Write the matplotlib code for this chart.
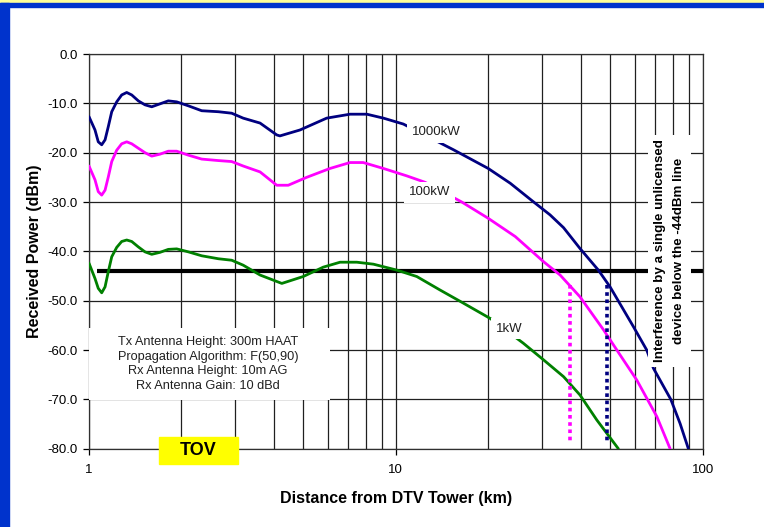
import matplotlib.pyplot as plt
from matplotlib.patches import Rectangle

plt.rcParams['font.family'] = ['Liberation Sans', 'DejaVu Sans']

# 1000kW curve (navy)
x_1000 = [1.0, 1.046, 1.072, 1.10, 1.128, 1.156, 1.186, 1.231, 1.278, 1.327, 1.378, 1.448,
          1.522, 1.601, 1.704, 1.813, 1.931, 2.107, 2.33, 2.64, 2.918, 3.18, 3.61, 4.09,
          4.19, 4.87, 5.95, 7.09, 8.04, 9.11, 10.58, 15.4, 20.0, 23.6, 28.0, 31.8, 35.2,
          39.8, 45.7, 49.9, 59.5, 65.7, 69.1, 78.7, 84.4, 89.8]
y_1000 = [-12.7, -15.4, -17.8, -18.4, -17.4, -14.7, -11.7, -9.7, -8.3, -7.8, -8.3, -9.5,
          -10.3, -10.7, -10.1, -9.5, -9.7, -10.5, -11.5, -11.7, -12.0, -13.0, -14.0, -16.4,
          -16.6, -15.4, -13.0, -12.2, -12.2, -13.0, -14.2, -19.4, -23.2, -26.2, -29.9, -32.6,
          -35.2, -39.4, -43.8, -47.2, -55.3, -60.0, -63.7, -70.0, -74.9, -80.0]

# 100kW curve (magenta)
x_100 = [1.0, 1.046, 1.072, 1.10, 1.128, 1.156, 1.186, 1.231, 1.278, 1.327, 1.378, 1.448,
         1.522, 1.601, 1.704, 1.813, 1.931, 2.107, 2.33, 2.64, 2.918, 3.18, 3.61, 4.09,
         4.46, 5.12, 6.10, 7.09, 7.83, 9.11, 10.85, 12.45, 16.4, 20.0, 24.5, 30.3, 34.3,
         39.8, 47.5, 53.8, 61.0, 70.9, 78.3]
y_100 = [-22.7, -25.5, -27.9, -28.6, -27.6, -24.9, -21.8, -19.5, -18.2, -17.8, -18.2, -19.1,
         -20.0, -20.7, -20.3, -19.7, -19.7, -20.5, -21.3, -21.6, -21.8, -22.7, -23.9, -26.6,
         -26.6, -25.0, -23.2, -22.0, -22.0, -23.2, -24.7, -26.0, -30.0, -33.3, -37.0, -42.1,
         -44.8, -49.2, -55.9, -61.0, -66.1, -73.5, -80.0]

# 1kW curve (green)
x_1 = [1.0, 1.046, 1.072, 1.10, 1.128, 1.156, 1.186, 1.231, 1.278, 1.327, 1.378, 1.448,
       1.522, 1.601, 1.704, 1.813, 1.931, 2.107, 2.33, 2.64, 2.918, 3.18, 3.61, 4.25, 4.99,
       5.80, 6.58, 7.46, 8.45, 10.07, 11.7, 13.9, 16.6, 20.3, 26.0, 30.3, 35.2, 39.8, 45.2,
       53.1]
y_1 = [-42.4, -45.5, -47.5, -48.4, -47.2, -44.1, -41.1, -39.2, -38.0, -37.7, -38.0, -39.1,
       -40.1, -40.6, -40.2, -39.6, -39.5, -40.1, -40.9, -41.5, -41.8, -42.8, -44.8, -46.5,
       -45.1, -43.2, -42.2, -42.2, -42.6, -43.8, -45.1, -47.8, -50.5, -53.6, -58.6, -62.0,
       -65.4, -69.1, -74.2, -80.0]

threshold = -44
x_cut_100 = 37.0
x_cut_1000 = 48.8
y_cut = [-46.8, -78.8]

navy = '#000080'
magenta = '#FF00FF'
green = '#008000'

fig = plt.figure(figsize=(7.64, 5.27), dpi=100)
fig.patch.set_facecolor('white')
# slide frame
fig.patches.append(Rectangle((0, 1 - 3 / 527), 1, 3 / 527, transform=fig.transFigure,
                             color='#FFFF99', zorder=0))
fig.patches.append(Rectangle((0, 1 - 7 / 527), 1, 4.2 / 527, transform=fig.transFigure,
                             color='#0033CC', zorder=0))
fig.patches.append(Rectangle((0, 0), 8.5 / 764, 1 - 3 / 527, transform=fig.transFigure,
                             color='#0033CC', zorder=0))

ax = fig.add_axes([89 / 764, 1 - 448.7 / 527, 613.7 / 764, 394.7 / 527])
ax.set_xscale('log')
ax.set_xlim(1, 100)
ax.set_ylim(-80, 0)

ax.grid(True, which='both', axis='x', color='#202020', lw=0.9)
ax.grid(True, which='major', axis='y', color='#202020', lw=0.9)
for s in ax.spines.values():
    s.set_color('#303030')
    s.set_linewidth(0.9)

ax.set_yticks(range(-80, 1, 10))
ax.set_yticklabels([f'{v:.1f}' for v in range(-80, 1, 10)])
ax.set_xticks([1, 10, 100])
ax.set_xticklabels(['1', '10', '100'])
ax.tick_params(axis='x', which='minor', length=0)
ax.tick_params(axis='both', which='major', length=4, width=0.9, labelsize=9.5, colors='black')
ax.tick_params(axis='y', pad=4)
ax.tick_params(axis='x', pad=7)

for xs, ys, c in [(x_1000, y_1000, navy), (x_100, y_100, magenta), (x_1, y_1, green)]:
    ax.plot(xs, ys, color=c, lw=2, zorder=3, solid_joinstyle='round', solid_capstyle='round')

ax.plot([1.06, 100], [threshold, threshold], color='black', lw=3, zorder=2, solid_capstyle='butt')
ax.plot([x_cut_100, x_cut_100], y_cut, color=magenta, lw=2.6, ls=(0, (1, 1)), zorder=4)
ax.plot([x_cut_1000, x_cut_1000], y_cut, color=navy, lw=2.6, ls=(0, (1, 1)), zorder=4)

lbl_box = dict(boxstyle='square,pad=0.35', fc='white', ec='none')
ax.text(13.5, -15.8, '1000kW', fontsize=9.5, ha='center', va='center', bbox=lbl_box, zorder=5,
        color='#202020')
ax.text(12.9, -28.0, '100kW', fontsize=9.5, ha='center', va='center', bbox=lbl_box, zorder=5,
        color='#202020')
ax.text(23.4, -55.7, '1kW', fontsize=9.5, ha='center', va='center', bbox=lbl_box, zorder=5,
        color='#202020')

# settings box
ax.add_patch(Rectangle((0.0, 0.123), 0.393, 0.183, transform=ax.transAxes, fc='white',
                       ec='none', zorder=5))
ax.text(0.194, 0.2146, 'Tx Antenna Height: 300m HAAT\nPropagation Algorithm: F(50,90)\n'
        'Rx Antenna Height: 10m AG\nRx Antenna Gain: 10 dBd', transform=ax.transAxes,
        fontsize=9.2, ha='center', va='center', linespacing=1.3, zorder=6, color='#202020')

# vertical note
ax.add_patch(Rectangle((0.911, 0.207), 0.07, 0.588, transform=ax.transAxes, fc='white',
                       ec='none', zorder=5))
ax.text(0.946, 0.501, 'Interference by a single unlicensed\ndevice below the -44dBm line',
        transform=ax.transAxes, rotation=90, fontsize=9.6, fontweight='bold', ha='center',
        va='center', linespacing=1.75, zorder=6)

# TOV tag
fig.patches.append(Rectangle((159 / 764, 1 - 464 / 527), 79 / 764, 27 / 527,
                             transform=fig.transFigure, color='#FFFF00', zorder=10))
fig.text(198.5 / 764, 1 - 450.5 / 527, 'TOV', fontsize=13, fontweight='bold', ha='center',
         va='center', zorder=11)

ax.set_xlabel('Distance from DTV Tower (km)', fontsize=11.5, fontweight='bold', labelpad=11)
ax.set_ylabel('Received Power (dBm)', fontsize=11.5, fontweight='bold', labelpad=4)

fig.savefig('out.png', dpi=100)
